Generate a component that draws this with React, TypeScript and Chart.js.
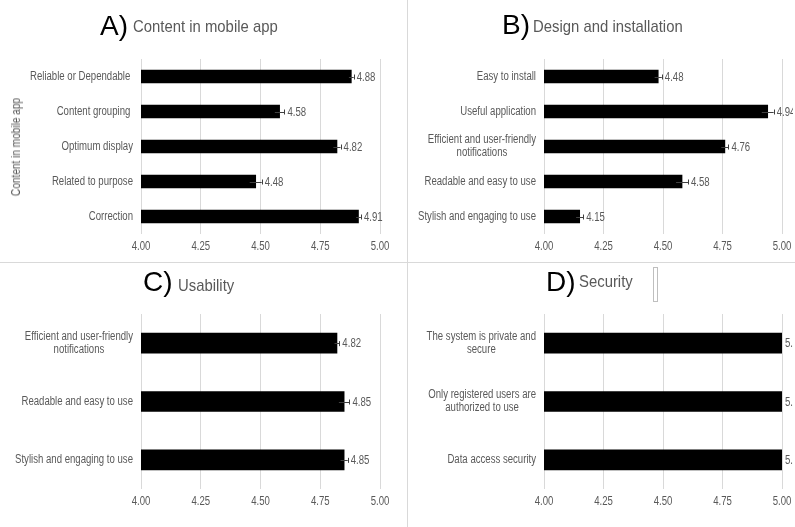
import React, { useEffect, useRef } from "react";
import { Chart, registerables } from "chart.js";

Chart.register(...registerables);

const SANS = '"Liberation Sans", Arial, sans-serif';
const GRAY = "#595959";
const GRID = "#d9d9d9";
const SQUEEZE = 0.8;

const xTickValues = [4.0, 4.25, 4.5, 4.75, 5.0];

const aLabels: (string | string[])[] = ["Reliable or Dependable ", "Content grouping ", "Optimum display", "Related to purpose", "Correction"];
const aValues = [4.88, 4.58, 4.82, 4.48, 4.91];
const aErrors = [0.01, 0.02, 0.015, 0.025, 0.01];

const bLabels: (string | string[])[] = ["Easy to install", "Useful application", ["Efficient and user-friendly", "notifications"], "Readable and easy to use", "Stylish and engaging to use"];
const bValues = [4.48, 4.94, 4.76, 4.58, 4.15];
const bErrors = [0.015, 0.025, 0.015, 0.025, 0.015];

const cLabels: (string | string[])[] = [["Efficient and user-friendly", "notifications"], "Readable and easy to use", "Stylish and engaging to use"];
const cValues = [4.82, 4.85, 4.85];
const cErrors = [0.01, 0.022, 0.015];

const dLabels: (string | string[])[] = [["The system is private and", "secure"], ["Only registered users are", "authorized to use"], "Data access security"];
const dValues = [5.0, 5.0, 5.0];
const dErrors = [0, 0, 0];

type PanelProps = {
  labels: (string | string[])[];
  values: number[];
  errors: number[];
  left: number;
  top: number;
  width: number;
  height: number;
  pad: { left: number; right: number; top: number; bottom: number };
  barThickness: number;
};

function narrowText(ctx: CanvasRenderingContext2D, text: string, x: number, y: number, align: CanvasTextAlign) {
  ctx.save();
  ctx.translate(x, y);
  ctx.scale(SQUEEZE, 1);
  ctx.textAlign = align;
  ctx.fillText(text, 0, 0);
  ctx.restore();
}

const annotatePlugin = {
  id: "annotate",
  afterDatasetsDraw(chart: any, _args: any, opts: any) {
    const ctx: CanvasRenderingContext2D = chart.ctx;
    const xs = chart.scales.x;
    const ys = chart.scales.y;
    const area = chart.chartArea;
    const labels: (string | string[])[] = opts.labels;
    const values: number[] = opts.values;
    const errors: number[] = opts.errors;
    ctx.save();
    ctx.font = `12px ${SANS}`;
    ctx.fillStyle = GRAY;
    ctx.textBaseline = "middle";
    const lh = 13;
    xTickValues.forEach((v) => {
      narrowText(ctx, v.toFixed(2), xs.getPixelForValue(v), area.bottom + 13, "center");
    });
    labels.forEach((lab, i) => {
      const y = ys.getPixelForValue(i);
      const lines = Array.isArray(lab) ? lab : [lab];
      const w = Math.max(...lines.map((l) => ctx.measureText(l).width)) * SQUEEZE;
      const cx = area.left - 8 - w / 2;
      lines.forEach((l, k) => {
        narrowText(ctx, l, cx, y + (k - (lines.length - 1) / 2) * lh, "center");
      });
      const v = values[i];
      const e = errors[i];
      const x0 = xs.getPixelForValue(v - e);
      const x1 = xs.getPixelForValue(v + e);
      if (e > 0) {
        ctx.strokeStyle = "#404040";
        ctx.lineWidth = 1;
        ctx.beginPath();
        ctx.moveTo(x0, Math.round(y) + 0.5);
        ctx.lineTo(x1, Math.round(y) + 0.5);
        ctx.moveTo(Math.round(x1) + 0.5, y - 2);
        ctx.lineTo(Math.round(x1) + 0.5, y + 3);
        ctx.stroke();
      }
      narrowText(ctx, v.toFixed(2), x1 + 3, y + 1, "left");
    });
    ctx.restore();
  },
};

function Panel(p: PanelProps) {
  const ref = useRef<HTMLCanvasElement | null>(null);
  useEffect(() => {
    if (!ref.current) return;
    const chart = new Chart(ref.current, {
      type: "bar",
      data: {
        labels: p.labels.map((l) => (Array.isArray(l) ? l.join(" ") : l)),
        datasets: [
          {
            data: p.values,
            backgroundColor: "#000000",
            borderWidth: 0,
            barThickness: p.barThickness,
          },
        ],
      },
      options: {
        indexAxis: "y",
        responsive: false,
        animation: false,
        events: [],
        layout: { padding: p.pad },
        plugins: {
          legend: { display: false },
          tooltip: { enabled: false },
          annotate: { labels: p.labels, values: p.values, errors: p.errors },
        } as any,
        scales: {
          x: {
            min: 4,
            max: 5,
            afterBuildTicks: (scale: any) => {
              scale.ticks = xTickValues.map((v) => ({ value: v }));
            },
            afterFit: (scale: any) => {
              scale.height = 20;
            },
            ticks: { display: false },
            grid: { color: GRID, lineWidth: 1, drawTicks: false },
            border: { display: false },
          },
          y: { display: false },
        },
      },
      plugins: [annotatePlugin],
    });
    return () => chart.destroy();
  }, []);
  return (
    <canvas
      ref={ref}
      width={p.width}
      height={p.height}
      style={{ position: "absolute", left: p.left, top: p.top, width: p.width, height: p.height }}
    />
  );
}

function Title(props: { letter: string; text: string; lx: number; tx: number; lBase: number; tBase: number }) {
  return (
    <>
      <div
        style={{
          position: "absolute",
          left: props.lx,
          top: props.lBase - 23.7,
          fontFamily: SANS,
          fontSize: 28,
          lineHeight: "28px",
          color: "#000",
          whiteSpace: "nowrap",
        }}
      >
        {props.letter}
      </div>
      <div
        style={{
          position: "absolute",
          left: props.tx,
          top: props.tBase - 14.4,
          fontFamily: SANS,
          fontSize: 17,
          lineHeight: "17px",
          color: GRAY,
          whiteSpace: "nowrap",
          transform: "scaleX(0.875)",
          transformOrigin: "0 0",
        }}
      >
        {props.text}
      </div>
    </>
  );
}

export default function App() {
  return (
    <div
      style={{
        position: "fixed",
        left: 0,
        top: 0,
        width: 795,
        height: 527,
        overflow: "hidden",
        background: "#fff",
      }}
    >
      <div style={{ position: "absolute", left: 407, top: 0, width: 1, height: 527, background: GRID }} />
      <div style={{ position: "absolute", left: 0, top: 262, width: 795, height: 1, background: GRID }} />

      <Panel
        labels={aLabels}
        values={aValues}
        errors={aErrors}
        left={0}
        top={0}
        width={400}
        height={262}
        pad={{ left: 141, right: 20, top: 59, bottom: 8 }}
        barThickness={13}
      />
      <Panel
        labels={bLabels}
        values={bValues}
        errors={bErrors}
        left={400}
        top={0}
        width={393}
        height={262}
        pad={{ left: 144, right: 11, top: 59, bottom: 8 }}
        barThickness={13}
      />
      <Panel
        labels={cLabels}
        values={cValues}
        errors={cErrors}
        left={0}
        top={263}
        width={400}
        height={264}
        pad={{ left: 141, right: 20, top: 51, bottom: 18 }}
        barThickness={20}
      />
      <Panel
        labels={dLabels}
        values={dValues}
        errors={dErrors}
        left={400}
        top={263}
        width={393}
        height={264}
        pad={{ left: 144, right: 11, top: 51, bottom: 18 }}
        barThickness={20}
      />

      <Title letter="A)" text="Content in mobile app" lx={100} tx={133} lBase={35.5} tBase={32} />
      <Title letter="B)" text="Design and installation" lx={502} tx={533} lBase={35} tBase={32} />
      <Title letter="C)" text="Usability" lx={143} tx={178} lBase={292} tBase={291} />
      <Title letter="D)" text="Security" lx={546} tx={579} lBase={292} tBase={287} />

      <div
        style={{
          position: "absolute",
          left: 16 - 60,
          top: 147 - 8,
          width: 120,
          height: 16,
          transform: "rotate(-90deg) scaleX(0.84)",
          transformOrigin: "60px 8px",
          textAlign: "center",
          fontFamily: SANS,
          fontSize: 12,
          lineHeight: "16px",
          color: GRAY,
          whiteSpace: "nowrap",
        }}
      >
        Content in mobile app
      </div>

      <div
        style={{
          position: "absolute",
          left: 653,
          top: 267,
          width: 3,
          height: 33,
          border: "1px solid #bfbfbf",
        }}
      />
    </div>
  );
}
